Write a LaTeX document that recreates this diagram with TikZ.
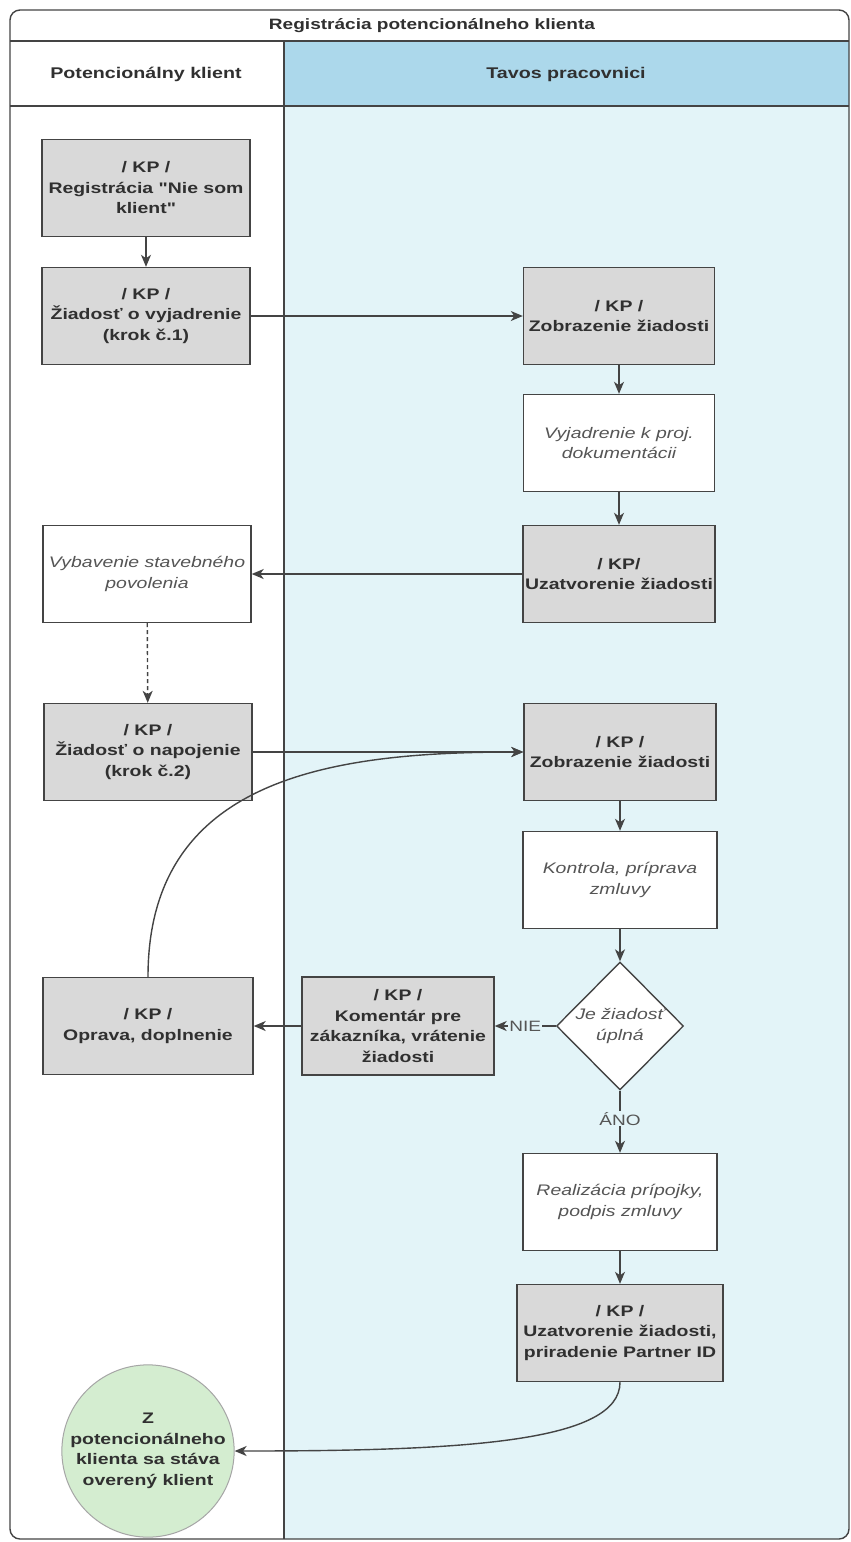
\documentclass[tikz,border=0pt]{standalone}
\usepackage{fontspec}
\setmainfont{Liberation Sans}[FakeStretch=1.27, Ligatures=TeXOff]
\usetikzlibrary{shapes.geometric,arrows.meta}

\definecolor{linec}{HTML}{444444}
\definecolor{boxgray}{HTML}{D9D9D9}
\definecolor{lanefill}{HTML}{E3F4F8}
\definecolor{headblue}{HTML}{ACD8EB}
\definecolor{endgreen}{HTML}{D4EDD0}
\definecolor{txtdark}{HTML}{303030}
\definecolor{txtgray}{HTML}{555555}

\tikzset{
  kpbox/.style={draw=linec, line width=1.4pt, fill=boxgray, text=txtdark, align=center,
    inner sep=2pt, minimum height=97pt, font=\fontsize{15.3}{20.5}\selectfont\bfseries},
  actbox/.style={draw=linec, line width=1.4pt, fill=white, text=txtgray, align=center,
    inner sep=2pt, minimum height=97pt, font=\fontsize{15.3}{20.5}\selectfont\itshape},
  decision/.style={draw=linec, line width=1.4pt, fill=white, text=txtgray, align=center,
    shape=diamond, inner sep=0pt, minimum width=127pt, minimum height=128pt,
    font=\fontsize{15.3}{20.5}\selectfont\itshape},
  terminal/.style={draw=gray!70, line width=1pt, fill=endgreen, text=txtdark, align=center,
    shape=circle, inner sep=0pt, minimum size=156pt, font=\fontsize{15.3}{20.5}\selectfont\bfseries},
  conn/.style={draw=linec, line width=1.4pt, -{Stealth[length=12pt,width=10pt,inset=3.5pt]}},
  flowlabel/.style={fill=lanefill, text=txtgray, inner sep=1pt, font=\fontsize{15}{18}\selectfont},
  headtext/.style={text=txtdark, font=\fontsize{15.5}{19}\selectfont\bfseries},
}

\begin{document}
\begin{tikzpicture}[x=1pt,y=-1pt]
\useasboundingbox (0,0) rectangle (851,1542);

% pool background and lanes
\begin{scope}
  \clip[rounded corners=10pt] (10,10) rectangle (849,1539);
  \fill[white] (0,0) rectangle (851,1542);
  \fill[headblue] (284,41) rectangle (851,106);
  \fill[lanefill] (284,106) rectangle (851,1542);
\end{scope}
\draw[linec, line width=1.3pt] (10,41) -- (849,41);
\draw[linec, line width=1.3pt] (10,106) -- (849,106);
\draw[linec, line width=1.3pt] (284,41) -- (284,1539);
\draw[linec, line width=1.4pt, rounded corners=10pt] (10,10) rectangle (849,1539);

\node[headtext, font=\fontsize{15}{18}\selectfont\bfseries] (title) at (432,26) {Registrácia potencionálneho klienta};
\node[headtext] (laneA) at (146,74) {Potencionálny klient};
\node[headtext] (laneB) at (566,74) {Tavos pracovnici};

% client lane
\node[kpbox, minimum width=208pt] (reg) at (146,188) {/ KP /\\Registrácia "Nie som\\klient"};
\node[kpbox, minimum width=208pt] (zv) at (146,316) {/ KP /\\Žiadosť o vyjadrenie\\(krok č.1)};
\node[actbox, minimum width=208pt] (vyb) at (147,574) {Vybavenie stavebného\\povolenia};
\node[kpbox, minimum width=208pt] (zn) at (148,752) {/ KP /\\Žiadosť o napojenie\\(krok č.2)};
\node[kpbox, minimum width=210pt] (opr) at (148,1026) {/ KP /\\Oprava, doplnenie};
\node[terminal] (done) at (148,1451) {Z\\potencionálneho\\klienta sa stáva\\overený klient};

% staff lane
\node[kpbox, minimum width=191pt] (zob1) at (619,316) {/ KP /\\Zobrazenie žiadosti};
\node[actbox, minimum width=191pt] (vyj) at (619,443) {Vyjadrenie k proj.\\dokumentácii};
\node[kpbox, minimum width=191pt] (uz1) at (619,574) {/ KP/\\Uzatvorenie žiadosti};
\node[kpbox, minimum width=192pt] (zob2) at (620,752) {/ KP /\\Zobrazenie žiadosti};
\node[actbox, minimum width=194pt] (kon) at (620,880) {Kontrola, príprava\\zmluvy};
\node[decision] (dec) at (620,1026) {Je žiadosť\\úplná};
\node[kpbox, minimum width=192pt, minimum height=98pt] (kom) at (398,1026) {/ KP /\\Komentár pre\\zákazníka, vrátenie\\žiadosti};
\node[actbox, minimum width=194pt] (real) at (620,1202) {Realizácia prípojky,\\podpis zmluvy};
\node[kpbox, minimum width=206pt] (uz2) at (620,1333) {/ KP /\\Uzatvorenie žiadosti,\\priradenie Partner ID};

% connectors
\draw[conn] (reg) -- (zv);
\draw[conn] (zv) -- (zob1);
\draw[conn] (zob1) -- (vyj);
\draw[conn] (vyj) -- (uz1);
\draw[conn] (uz1) -- (vyb);
\draw[conn, dash pattern=on 4pt off 3pt] (vyb) -- (zn);
\draw[conn] (zn) -- (zob2);
\draw[conn] (zob2) -- (kon);
\draw[conn] (kon.south) -- (dec.north);
\draw[conn] (dec.west) -- node[flowlabel] {NIE} (kom.east);
\draw[conn] (kom) -- (opr);
\draw[conn] (opr.north) .. controls +(0,-200) and +(-190,0) .. (zob2.west);
\draw[conn] (dec.south) -- node[flowlabel, pos=0.45] {ÁNO} (real.north);
\draw[conn] (real) -- (uz2);
\draw[conn] (uz2.south) .. controls +(0,60) and +(230,0) .. (done.east);
\end{tikzpicture}
\end{document}
